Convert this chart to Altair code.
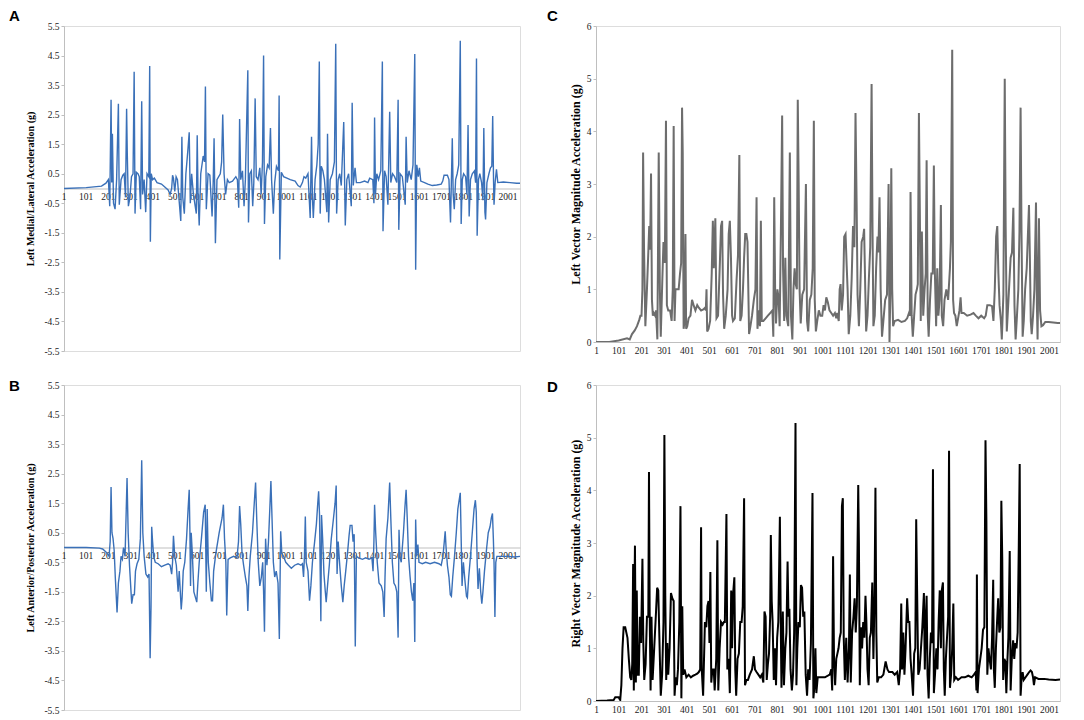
import altair as alt
import pandas as pd

X_TICKS = [1, 101, 201, 301, 401, 501, 601, 701, 801, 901, 1001, 1101, 1201, 1301,
           1401, 1501, 1601, 1701, 1801, 1901, 2001]
Y_TICKS_AB = [-5.5, -4.5, -3.5, -2.5, -1.5, -0.5, 0.5, 1.5, 2.5, 3.5, 4.5, 5.5]
Y_TICKS_CD = [0, 1, 2, 3, 4, 5, 6]

# Panel A: Left medial/lateral acceleration (sample index, g)
A_pts = [(1,0.0),(101,0.03),(170,0.08),(190,0.18),(201,0.3),(207,-0.6),(213,3.0),(216,0.2),(219,1.85),(224,-0.5),(231,-0.7),(238,0.3),(246,2.87),(250,-0.55),(258,0.3),(266,0.45),(272,0.5),(278,-0.3),(283,2.7),(286,1.2),(291,-0.6),(298,-0.3),(305,0.4),(312,0.5),(317,3.95),(321,-0.85),(327,0.55),(334,0.5),(340,0.4),(346,-0.7),(351,2.95),(355,-0.2),(362,0.3),(369,-0.8),(375,0.5),(383,0.4),(387,4.15),(390,-1.8),(394,0.5),(400,0.3),(408,0.35),(420,0.2),(440,0.15),(455,0.05),(470,-0.05),(479,-0.2),(486,0.0),(490,0.45),(494,0.35),(500,-0.1),(506,0.4),(512,0.3),(527,-1.1),(532,1.75),(536,-0.3),(543,-0.85),(550,0.5),(559,1.3),(565,1.9),(570,-0.5),(576,0.5),(584,-0.2),(597,-0.85),(601,1.8),(605,-0.3),(610,-1.25),(617,0.5),(628,1.1),(634,0.9),(638,3.45),(642,-0.7),(650,0.5),(658,0.45),(668,-0.95),(673,0.2),(677,1.7),(683,-1.85),(690,0.3),(705,0.5),(711,0.9),(716,2.5),(722,0.5),(729,-0.2),(737,0.3),(745,0.2),(760,0.25),(775,0.4),(782,0.3),(788,-0.65),(792,2.35),(797,0.3),(805,0.6),(812,-0.6),(818,0.3),(829,4.0),(832,-1.15),(838,0.5),(845,0.6),(851,-0.6),(856,0.2),(862,3.05),(867,0.4),(875,0.3),(883,0.7),(889,-0.2),(895,0.9),(900,4.5),(904,-1.2),(910,0.4),(918,0.8),(925,0.7),(931,2.05),(936,0.3),(944,-0.85),(950,0.2),(958,0.75),(967,0.6),(970,3.15),(973,-2.4),(980,0.55),(990,0.4),(1005,0.35),(1020,0.3),(1042,0.25),(1055,0.1),(1065,0.05),(1075,0.2),(1082,0.4),(1090,0.35),(1100,0.5),(1110,-1.0),(1116,1.75),(1120,-0.3),(1124,-1.0),(1132,0.3),(1140,0.8),(1146,1.5),(1151,4.3),(1155,-0.85),(1160,0.75),(1167,0.6),(1174,0.3),(1185,-0.8),(1188,1.85),(1193,-1.15),(1200,0.3),(1210,0.5),(1219,0.9),(1225,4.9),(1229,-0.85),(1236,0.3),(1243,0.5),(1250,0.1),(1261,2.25),(1268,-1.25),(1275,0.3),(1283,0.5),(1295,-0.6),(1299,2.9),(1304,0.1),(1312,0.7),(1318,0.2),(1335,0.2),(1355,0.25),(1370,0.2),(1378,0.35),(1392,0.3),(1397,-0.5),(1400,2.4),(1404,-0.2),(1410,0.5),(1418,0.3),(1428,0.6),(1435,4.3),(1438,-1.45),(1445,0.6),(1452,0.4),(1460,-0.55),(1468,2.6),(1473,0.2),(1481,0.5),(1490,0.4),(1500,0.2),(1506,3.0),(1509,-1.4),(1515,0.5),(1525,0.4),(1538,-0.55),(1542,1.75),(1547,0.2),(1555,0.6),(1565,0.3),(1573,0.8),(1581,4.55),(1585,-2.75),(1590,0.8),(1597,0.4),(1602,0.7),(1608,0.25),(1625,0.2),(1640,0.15),(1660,0.1),(1680,0.12),(1700,0.15),(1707,0.25),(1713,0.45),(1728,0.45),(1735,0.3),(1742,-1.15),(1750,1.7),(1754,-0.2),(1759,-0.7),(1765,0.3),(1772,0.5),(1779,0.8),(1786,5.0),(1790,-1.2),(1795,0.3),(1801,0.5),(1810,0.4),(1816,-0.2),(1821,2.15),(1826,-0.95),(1832,0.3),(1840,0.5),(1850,0.6),(1855,0.2),(1859,4.4),(1862,-1.6),(1868,0.3),(1874,0.5),(1882,0.2),(1888,-0.4),(1892,2.05),(1897,-0.8),(1900,-1.05),(1906,0.2),(1915,0.5),(1922,0.7),(1928,0.75),(1932,2.45),(1936,0.2),(1938,-0.55),(1943,0.2),(1949,0.65),(1955,0.2),(1980,0.22),(2010,0.2),(2040,0.18),(2055,0.18)]
A_x = [p[0] for p in A_pts]
A_y = [p[1] for p in A_pts]

# Panel B: Left anterior/posterior acceleration
B_pts = [(1,0),(101,0),(160,-0.02),(175,-0.05),(190,-0.15),(200,-0.25),(204,-0.3),(209,0.2),(213,2.05),(217,0.5),(222,0.3),(227,-0.1),(232,-1.0),(240,-2.2),(246,-1.2),(253,-0.8),(258,-0.3),(264,-0.4),(269,0.0),(276,-0.3),(285,2.35),(290,0.5),(296,-0.6),(306,-1.9),(312,-1.6),(318,-1.6),(323,-0.8),(330,-0.55),(338,-0.4),(345,0.3),(351,2.95),(356,0.5),(362,-0.3),(370,-0.9),(378,-1.0),(384,-0.9),(389,-3.75),(393,-2.0),(396,0.7),(400,0.2),(405,-0.3),(412,-0.5),(425,-0.55),(440,-0.65),(455,-0.6),(470,-0.55),(479,-0.6),(486,-0.9),(490,-0.5),(494,0.4),(500,-0.3),(507,-0.6),(515,-1.5),(520,-0.8),(529,-2.1),(533,-1.7),(538,-0.8),(545,-0.5),(553,0.3),(560,1.3),(565,1.95),(568,0.6),(571,-1.3),(574,0.5),(579,-0.2),(586,-1.5),(599,-1.85),(604,-1.2),(610,-0.5),(620,0.3),(630,1.2),(637,1.45),(642,-1.5),(646,1.3),(651,-0.5),(658,-1.2),(665,-1.8),(670,-1.8),(675,-0.8),(685,-0.2),(700,0.5),(713,1.0),(719,1.45),(724,0.3),(730,-0.5),(734,-2.3),(740,-0.4),(750,-0.35),(765,-0.3),(780,-0.35),(787,0.2),(792,1.4),(797,0.8),(803,-0.2),(810,-0.6),(818,-1.0),(825,-1.3),(829,-2.15),(834,-1.0),(840,-0.3),(850,0.5),(858,1.5),(864,2.2),(869,1.0),(876,-0.5),(883,-1.3),(890,-1.0),(896,-0.5),(900,-1.5),(904,-2.85),(909,0.3),(915,-0.6),(922,0.2),(928,1.3),(933,2.25),(938,1.0),(944,-0.5),(950,-1.0),(957,-0.8),(965,-1.2),(971,-3.1),(977,0.55),(982,-0.2),(990,-0.3),(1000,-0.5),(1012,-0.6),(1025,-0.7),(1040,-0.6),(1055,-0.55),(1068,-0.6),(1075,-0.55),(1080,-1.0),(1084,-0.3),(1088,1.05),(1092,-0.5),(1100,-0.8),(1107,-1.8),(1113,-1.3),(1120,-0.5),(1130,0.2),(1138,0.8),(1144,1.5),(1148,1.9),(1152,1.1),(1155,-0.8),(1158,-2.5),(1161,1.1),(1166,0.3),(1172,-0.9),(1178,-1.5),(1182,-1.85),(1188,-1.3),(1196,-0.6),(1205,0.3),(1215,1.0),(1222,1.5),(1227,2.1),(1231,-0.9),(1236,0.2),(1243,-0.6),(1250,-1.3),(1257,-1.85),(1263,-1.3),(1270,-0.8),(1278,-0.2),(1285,0.4),(1290,0.75),(1298,0.75),(1303,0.2),(1308,0.45),(1313,-3.35),(1318,-0.3),(1328,-0.35),(1345,-0.4),(1360,-0.35),(1375,-0.4),(1388,-0.35),(1393,-0.8),(1397,0.2),(1400,1.45),(1405,0.5),(1412,-0.5),(1420,-1.2),(1430,-1.3),(1437,-1.5),(1443,-2.35),(1447,-1.0),(1452,0.3),(1460,1.0),(1468,2.2),(1473,1.0),(1480,-0.5),(1487,-1.2),(1494,-1.3),(1500,-1.5),(1506,-3.05),(1510,0.6),(1514,-0.3),(1520,-0.5),(1530,0.5),(1537,1.4),(1542,1.95),(1547,1.0),(1553,-0.3),(1560,-1.0),(1566,-1.5),(1572,-1.8),(1577,-1.2),(1581,-3.2),(1585,0.95),(1589,-0.3),(1595,0.1),(1600,-0.5),(1615,-0.55),(1630,-0.5),(1650,-0.55),(1670,-0.5),(1690,-0.55),(1700,-0.6),(1708,-0.3),(1714,0.2),(1718,0.55),(1722,0.0),(1728,-0.6),(1735,-1.0),(1741,-1.6),(1746,-1.65),(1752,-1.0),(1760,-0.3),(1768,0.5),(1775,1.3),(1781,1.6),(1786,1.85),(1790,0.3),(1794,-1.3),(1800,-0.5),(1808,-1.2),(1814,-1.65),(1818,-1.7),(1824,-1.0),(1832,-0.3),(1840,0.5),(1848,1.3),(1854,1.6),(1858,1.2),(1862,-0.5),(1866,-1.4),(1872,-0.7),(1878,-1.5),(1883,-1.9),(1888,-1.5),(1895,-0.8),(1905,0.0),(1912,0.5),(1920,0.7),(1926,1.0),(1931,1.15),(1935,0.3),(1938,-0.5),(1942,-2.35),(1946,-0.5),(1951,-0.3),(1970,-0.3),(2000,-0.3),(2030,-0.32),(2055,-0.3)]
B_x = [p[0] for p in B_pts]
B_y = [p[1] for p in B_pts]

# Panel C: Left vector magnitude acceleration
C_pts = [(1,0),(60,0.0),(101,0.03),(138,0.07),(150,0.05),(160,0.15),(172,0.22),(182,0.3),(192,0.42),(197,0.5),(202,0.5),(206,1.0),(209,3.6),(213,1.8),(219,0.3),(226,1.0),(232,1.7),(236,2.2),(240,1.75),(244,3.2),(248,0.8),(252,0.5),(256,0.55),(262,0.5),(266,0.6),(272,0.05),(278,3.6),(283,1.0),(287,0.1),(294,1.2),(299,1.9),(305,1.5),(310,4.2),(314,0.7),(320,0.6),(328,0.6),(335,0.4),(340,1.0),(344,4.1),(348,0.4),(352,1.0),(360,1.0),(366,1.0),(372,1.3),(377,1.5),(381,4.45),(384,3.6),(388,0.25),(392,0.4),(396,2.05),(399,0.25),(404,0.3),(410,0.45),(418,0.5),(425,0.8),(432,0.7),(440,0.6),(448,0.7),(455,0.65),(465,0.6),(475,0.62),(482,0.65),(486,0.6),(489,1.0),(492,0.2),(498,0.25),(505,0.4),(512,1.3),(517,2.3),(521,1.4),(528,2.35),(533,0.45),(540,0.5),(548,1.5),(553,2.2),(558,2.3),(562,0.9),(567,0.25),(574,0.5),(582,1.0),(587,2.05),(592,2.3),(597,1.6),(602,0.5),(606,0.4),(614,0.45),(622,1.2),(628,1.65),(634,3.55),(638,0.4),(644,0.5),(650,1.0),(655,1.6),(660,2.05),(665,2.05),(670,1.9),(674,0.9),(677,0.15),(683,0.3),(690,0.5),(698,0.8),(705,1.0),(710,2.75),(714,0.25),(720,0.6),(725,0.3),(729,2.3),(733,0.4),(740,0.4),(750,0.45),(760,0.5),(770,0.55),(780,0.6),(784,0.1),(788,2.75),(792,1.0),(796,0.35),(802,1.0),(807,0.85),(812,0.3),(818,2.3),(823,4.3),(827,1.4),(832,0.4),(837,1.6),(842,0.5),(850,0.3),(857,3.6),(862,0.5),(868,0.05),(873,1.0),(878,1.4),(883,1.1),(888,1.0),(892,4.6),(896,3.0),(900,1.0),(905,0.35),(912,0.9),(920,1.0),(928,3.0),(933,0.4),(938,0.2),(945,0.8),(952,0.9),(958,1.4),(963,4.2),(967,0.8),(972,0.2),(978,0.4),(985,0.6),(992,0.5),(1000,0.5),(1006,0.7),(1012,0.6),(1018,0.85),(1025,0.75),(1032,0.6),(1040,0.55),(1048,0.5),(1056,0.55),(1062,0.45),(1066,0.55),(1073,0.4),(1077,1.0),(1081,1.1),(1086,0.6),(1092,0.9),(1097,2.0),(1103,2.05),(1108,1.45),(1112,1.0),(1117,0.15),(1124,0.5),(1130,1.2),(1136,2.2),(1142,1.8),(1147,4.35),(1152,2.6),(1156,0.9),(1162,0.3),(1168,1.0),(1174,1.9),(1181,2.0),(1185,2.15),(1190,1.0),(1194,0.2),(1200,0.5),(1206,1.2),(1212,1.8),(1218,4.9),(1222,2.2),(1226,0.3),(1232,0.5),(1238,1.4),(1244,2.0),(1248,1.7),(1253,2.75),(1258,1.0),(1264,0.1),(1270,0.4),(1278,0.8),(1286,0.9),(1293,3.0),(1297,0.0),(1301,1.0),(1305,3.3),(1309,1.0),(1313,0.3),(1320,0.4),(1335,0.42),(1350,0.38),(1365,0.4),(1375,0.45),(1383,0.55),(1387,0.5),(1390,2.85),(1395,0.5),(1400,0.1),(1406,0.5),(1412,0.9),(1418,1.0),(1422,1.1),(1427,4.35),(1431,2.5),(1435,0.4),(1440,2.1),(1446,0.5),(1452,1.0),(1457,1.3),(1461,3.45),(1466,0.5),(1470,0.1),(1476,0.8),(1482,1.3),(1488,1.3),(1493,3.35),(1497,1.4),(1503,0.3),(1508,1.4),(1513,0.5),(1518,0.8),(1524,2.6),(1528,0.5),(1534,0.3),(1540,0.8),(1548,1.0),(1556,0.8),(1564,1.4),(1568,1.9),(1574,5.55),(1578,0.8),(1582,0.55),(1588,0.5),(1594,0.3),(1600,0.45),(1606,0.6),(1611,0.85),(1615,0.55),(1625,0.55),(1640,0.5),(1655,0.52),(1668,0.55),(1678,0.5),(1690,0.45),(1702,0.5),(1715,0.45),(1722,0.5),(1729,0.7),(1740,0.7),(1750,0.68),(1756,0.4),(1762,1.0),(1768,2.0),(1773,2.2),(1778,1.3),(1783,0.7),(1789,0.4),(1793,0.05),(1800,0.9),(1806,5.0),(1810,2.2),(1815,0.2),(1820,0.6),(1826,1.1),(1832,1.6),(1838,1.7),(1844,2.55),(1849,0.7),(1854,0.05),(1860,0.5),(1866,1.0),(1871,2.1),(1876,4.45),(1880,2.1),(1885,0.1),(1890,0.4),(1896,1.0),(1903,1.4),(1908,2.0),(1913,2.6),(1917,1.6),(1921,0.4),(1925,0.15),(1931,0.5),(1937,1.0),(1944,2.65),(1948,0.7),(1951,0.05),(1957,2.35),(1962,0.6),(1968,0.3),(1975,0.32),(1985,0.38),(2000,0.38),(2020,0.37),(2040,0.36),(2050,0.36)]
C_x = [p[0] for p in C_pts]
C_y = [p[1] for p in C_pts]

# Panel D: Right vector magnitude acceleration
D_pts = [(1,0),(50,0.01),(79,0.02),(86,0.07),(101,0.07),(105,0.04),(108,0.02),(113,0.3),(118,1.0),(123,1.4),(130,1.4),(140,1.2),(146,0.8),(152,0.45),(157,0.4),(161,0.7),(165,2.6),(168,0.2),(171,2.1),(173,2.95),(177,0.35),(181,2.1),(185,0.5),(190,0.5),(195,1.6),(200,1.1),(206,2.7),(210,1.1),(214,0.4),(220,0.7),(226,1.6),(232,1.6),(235,4.35),(238,1.7),(242,0.2),(246,1.6),(251,0.4),(258,1.0),(265,1.6),(271,2.15),(276,2.1),(282,1.0),(287,0.1),(293,0.5),(299,1.5),(303,5.05),(307,2.0),(311,0.4),(316,1.1),(320,0.5),(326,1.0),(332,2.05),(338,1.95),(344,1.9),(348,0.1),(353,0.45),(358,0.3),(363,0.6),(369,1.5),(374,3.7),(378,0.05),(382,1.8),(386,0.5),(392,0.6),(400,0.45),(410,0.5),(420,0.45),(430,0.48),(440,0.5),(448,0.52),(455,0.55),(461,0.6),(465,3.3),(468,0.6),(474,0.1),(478,0.8),(482,1.5),(488,1.4),(493,1.8),(498,1.9),(502,1.1),(506,2.45),(510,0.35),(515,0.6),(521,0.6),(525,0.2),(532,0.8),(537,3.05),(541,0.2),(547,1.0),(553,1.5),(560,1.45),(566,1.5),(570,1.5),(577,3.55),(581,0.6),(587,0.8),(592,0.15),(598,2.1),(602,1.0),(606,2.0),(612,2.35),(616,0.6),(620,0.1),(626,0.8),(632,0.9),(638,1.5),(644,1.5),(649,1.8),(655,3.85),(659,0.3),(665,0.4),(672,0.4),(680,0.5),(690,0.6),(698,0.85),(703,0.6),(710,0.55),(718,0.5),(726,0.45),(733,0.5),(740,0.35),(745,1.7),(750,1.6),(755,0.4),(760,0.7),(765,0.9),(770,1.6),(773,3.15),(777,1.9),(781,1.5),(786,0.4),(791,1.0),(796,0.3),(801,1.2),(806,1.5),(810,2.6),(813,3.5),(817,1.4),(820,0.25),(826,1.7),(831,0.3),(837,1.0),(842,1.3),(847,2.65),(851,1.6),(855,1.75),(860,0.6),(866,0.2),(871,0.5),(876,1.3),(882,5.28),(886,0.3),(890,1.0),(895,1.5),(901,1.4),(906,2.2),(911,2.15),(916,1.6),(921,1.7),(927,0.5),(933,0.1),(938,0.6),(944,0.4),(950,1.1),(957,3.95),(961,0.05),(966,0.3),(970,1.0),(974,0.15),(980,0.45),(990,0.45),(1000,0.45),(1012,0.45),(1025,0.48),(1033,0.5),(1040,0.6),(1044,0.2),(1048,2.75),(1052,0.8),(1057,0.3),(1062,0.8),(1067,0.9),(1072,1.0),(1077,1.2),(1082,1.3),(1087,3.7),(1091,3.85),(1095,1.2),(1100,0.4),(1106,1.2),(1112,0.35),(1118,1.0),(1122,2.4),(1126,0.35),(1132,1.3),(1138,1.6),(1143,1.95),(1148,1.3),(1153,1.8),(1159,4.1),(1162,3.0),(1166,0.3),(1171,1.4),(1176,1.0),(1181,1.5),(1186,1.2),(1191,2.0),(1195,1.5),(1200,0.6),(1205,0.3),(1210,1.2),(1215,1.3),(1221,2.25),(1226,0.8),(1231,2.0),(1235,4.05),(1239,1.3),(1243,0.35),(1250,0.45),(1260,0.45),(1270,0.5),(1280,0.75),(1288,0.6),(1295,0.55),(1310,0.55),(1320,0.5),(1331,0.55),(1338,0.3),(1344,0.6),(1349,1.85),(1353,0.6),(1358,1.3),(1363,0.5),(1368,1.0),(1375,1.95),(1380,1.5),(1385,1.5),(1390,0.8),(1395,0.5),(1401,0.1),(1406,0.9),(1411,1.0),(1415,3.45),(1419,2.1),(1424,0.5),(1430,0.6),(1436,1.0),(1442,1.4),(1449,2.05),(1453,0.6),(1457,1.5),(1461,2.0),(1465,0.5),(1470,0.05),(1475,0.8),(1480,1.3),(1485,1.1),(1489,4.4),(1493,0.15),(1498,0.5),(1504,1.0),(1509,0.6),(1514,1.5),(1519,2.1),(1524,1.0),(1528,2.1),(1533,2.25),(1537,0.6),(1541,0.1),(1546,0.8),(1551,1.2),(1556,1.6),(1560,4.75),(1564,0.25),(1569,0.5),(1574,1.0),(1579,1.85),(1583,0.4),(1590,0.45),(1600,0.4),(1615,0.45),(1630,0.45),(1645,0.48),(1660,0.45),(1670,0.5),(1678,0.55),(1681,0.2),(1683,2.4),(1686,0.15),(1692,0.6),(1698,0.8),(1704,1.0),(1710,1.35),(1716,1.4),(1721,4.95),(1725,3.4),(1729,0.5),(1734,1.0),(1739,0.8),(1745,0.6),(1750,1.2),(1755,2.3),(1758,0.6),(1762,0.25),(1767,1.0),(1772,1.5),(1777,1.95),(1782,1.3),(1787,1.4),(1791,3.8),(1795,2.7),(1799,0.4),(1804,0.8),(1809,0.75),(1813,0.15),(1818,0.8),(1822,1.2),(1828,2.85),(1832,0.2),(1837,0.8),(1843,1.15),(1848,0.8),(1853,1.1),(1858,1.0),(1863,1.3),(1868,2.95),(1872,4.5),(1876,0.1),(1880,0.4),(1885,0.55),(1890,0.4),(1898,0.45),(1906,0.5),(1914,0.55),(1920,0.58),(1926,0.55),(1931,0.45),(1935,0.3),(1940,0.45),(1955,0.42),(1980,0.42),(2000,0.41),(2030,0.4),(2050,0.41)]
D_x = [p[0] for p in D_pts]
D_y = [p[1] for p in D_pts]

SERIF = "Liberation Serif"
AXIS_GRAY = "#bfbfbf"
LABEL_COLOR = "#222222"


def panel(xs, ys, color, stroke_w, width, height, ydom, yticks, ytitle, letter,
          letter_x, letter_y, xmax, zero_axis, title_size, label_size, title_pad):
    df = pd.DataFrame({"x": xs, "y": ys})
    xscale = alt.Scale(domain=[1, xmax], nice=False, zero=False)
    yscale = alt.Scale(domain=ydom, nice=False, zero=False)
    if zero_axis:
        x_offset = -height * (0 - ydom[0]) / (ydom[1] - ydom[0])
        ylabel = "datum.value < 0 ? '-' + format(abs(datum.value), '.1f') : format(datum.value, '.1f')"
        xaxis = alt.Axis(values=X_TICKS, title=None, grid=False, offset=x_offset,
                         labels=False, ticks=False, domainColor=AXIS_GRAY)
    else:
        ylabel = "format(datum.value, 'd')"
        xaxis = alt.Axis(values=X_TICKS, title=None, grid=False, format="d",
                         labelFont=SERIF, labelFontSize=label_size, labelColor=LABEL_COLOR,
                         labelOverlap=False, labelFlush=False, labelBound=False,
                         labelPadding=3, domainColor=AXIS_GRAY, ticks=False,
                         labelAngle=0)
    yaxis = alt.Axis(values=yticks, title=ytitle, grid=False, labelExpr=ylabel,
                     labelFont=SERIF, labelFontSize=label_size, labelColor=LABEL_COLOR,
                     labelOverlap=False, labelFlush=False, labelBound=False,
                     labelPadding=2, domainColor=AXIS_GRAY, tickColor=AXIS_GRAY,
                     tickSize=3, titleFont=SERIF, titleFontSize=title_size,
                     titleFontWeight="bold", titleColor="#000000", titlePadding=title_pad)
    line = alt.Chart(df).mark_line(color=color, strokeWidth=stroke_w, clip=True).encode(
        x=alt.X("x:Q", scale=xscale, axis=xaxis),
        y=alt.Y("y:Q", scale=yscale, axis=yaxis),
        order="x:Q",
    )
    layers = [line]
    if zero_axis:
        tick_df = pd.DataFrame({"x": X_TICKS, "t": [str(v) for v in X_TICKS],
                                "y": [0] * len(X_TICKS)})
        xlabels = alt.Chart(tick_df).mark_text(
            font=SERIF, fontSize=label_size, color=LABEL_COLOR, baseline="top",
            align="center", dy=3
        ).encode(x=alt.X("x:Q", scale=xscale, axis=xaxis),
                 y=alt.Y("y:Q", scale=yscale, axis=yaxis), text="t:N")
        layers = [xlabels, line]
    lab = alt.Chart(pd.DataFrame({"t": [letter]})).mark_text(
        font="Liberation Sans", fontSize=15, fontWeight="bold", align="left",
        baseline="middle", color="#000000"
    ).encode(text="t:N", x=alt.value(letter_x), y=alt.value(letter_y))
    layers.append(lab)
    return alt.layer(*layers).properties(width=width, height=height)


A = panel(A_x, A_y, "#3a70b8", 1.4, 456, 325, [-5.5, 5.5], Y_TICKS_AB,
          "Left Medial/Lateral Acceleration (g)", "A", -55, -10, 2055, True, 10, 9.5, 8)
B = panel(B_x, B_y, "#3a70b8", 1.4, 456, 325, [-5.5, 5.5], Y_TICKS_AB,
          "Left Anterior/Posterior Acceleration (g)", "B", -55, 1, 2055, True, 10, 9.5, 8)
C = panel(C_x, C_y, "#6d6d6d", 2.0, 464, 316, [0, 6], Y_TICKS_CD,
          "Left Vector Magnitude Acceleration (g)", "C", -49, -10, 2050, False, 12, 9.5, 4)
D = panel(D_x, D_y, "#000000", 2.0, 464, 316, [0, 6], Y_TICKS_CD,
          "Right Vector Magnitude Acceleration (g)", "D", -49, 2, 2050, False, 12, 9.5, 4)

row1 = alt.hconcat(A, C, spacing=25)
row2 = alt.hconcat(B, D, spacing=25)
chart = alt.vconcat(row1, row2, spacing=22).properties(
    padding={"left": 0, "top": 0, "right": 0, "bottom": 0}
).configure_view(stroke=None).configure(background="#ffffff")

chart.save("out.html", embed_options={"renderer": "svg", "actions": False})
